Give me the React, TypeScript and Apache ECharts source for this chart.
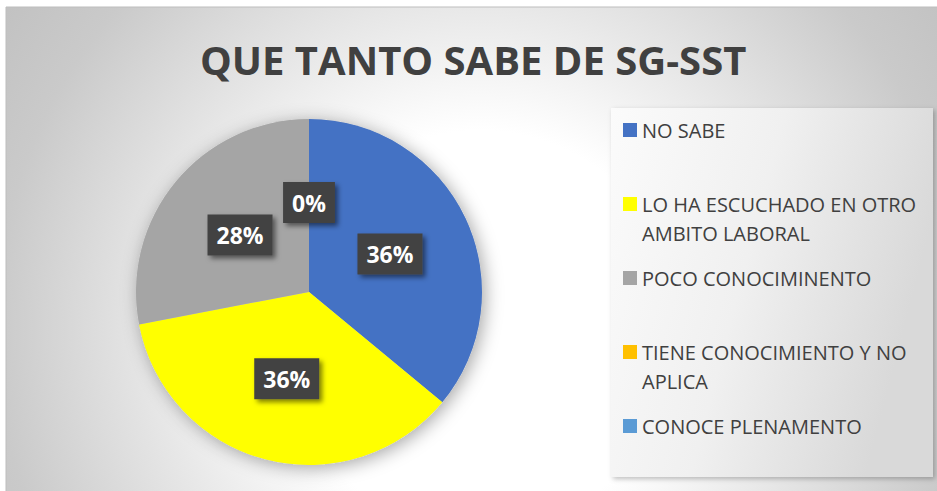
import React, { useEffect, useRef } from "react";
import * as echarts from "echarts";

const categories = [
  "NO SABE",
  "LO HA ESCUCHADO EN OTRO AMBITO LABORAL",
  "POCO CONOCIMINENTO",
  "TIENE CONOCIMIENTO Y NO APLICA",
  "CONOCE PLENAMENTO",
];
const legendLines = [
  ["NO SABE"],
  ["LO HA ESCUCHADO EN OTRO", "AMBITO LABORAL"],
  ["POCO CONOCIMINENTO"],
  ["TIENE CONOCIMIENTO Y NO", "APLICA"],
  ["CONOCE PLENAMENTO"],
];
const values = [36, 36, 28, 0, 0];
const colors = ["#4472C4", "#FFFF00", "#A5A5A5", "#FFC000", "#5B9BD5"];
const titleText = "QUE TANTO SABE DE SG-SST";

export default function App() {
  const ref = useRef<HTMLDivElement>(null);
  useEffect(() => {
    document.body.style.margin = "0";
    const chart = echarts.init(ref.current!, null, { renderer: "svg" });
    const legendCenters = [130, 204, 278, 352, 426];
    const lh = 29;
    const legends = categories.map((c, i) => {
      const multi = legendLines[i].length > 1;
      const iconH = multi ? 14 + lh : 14;
      return {
        data: [c],
        left: 623,
        top: multi ? legendCenters[i] - 14.5 : legendCenters[i] - 10,
        padding: 0,
        itemWidth: 14,
        itemHeight: iconH,
        itemGap: 5,
        icon: multi
          ? `path://M0,0H14V14H0Z M0,${iconH - 0.01}H14V${iconH}H0Z`
          : "rect",
        selectedMode: false,
        formatter: () => legendLines[i].join("\n"),
        textStyle: {
          fontFamily: "Open Sans",
          fontSize: 20,
          color: "#404040",
          lineHeight: multi ? lh : 20,
        },
      };
    });
    chart.setOption({
      animation: false,
      color: colors,
      title: {
        text: titleText,
        left: 200,
        top: 39,
        padding: 0,
        textStyle: {
          fontFamily: "Open Sans",
          fontSize: 40,
          fontWeight: "bold",
          color: "#404040",
          lineHeight: 40,
        },
      },
      graphic: [
        {
          type: "rect",
          z: -10,
          shape: { x: 6, y: 7, width: 940, height: 500 },
          style: {
            fill: {
              type: "radial",
              x: 480,
              y: 330,
              r: 570,
              global: true,
              colorStops: [
                { offset: 0, color: "#ffffff" },
                { offset: 0.35, color: "#ffffff" },
                { offset: 0.5, color: "#efefef" },
                { offset: 0.68, color: "#dcdcdc" },
                { offset: 0.85, color: "#cacaca" },
                { offset: 1, color: "#c2c2c2" },
              ],
            },
            stroke: "#bdbdbd",
            lineWidth: 1,
          },
        },
        {
          type: "rect",
          z: -9,
          shape: { x: 611, y: 108, width: 322, height: 369 },
          style: {
            fill: {
              type: "linear",
              x: 0,
              y: 0,
              x2: 1,
              y2: 0.3,
              colorStops: [
                { offset: 0, color: "#fbfbfb" },
                { offset: 0.5, color: "#f0f0f0" },
                { offset: 1, color: "#d9d9d9" },
              ],
            },
            shadowColor: "rgba(0,0,0,0.25)",
            shadowBlur: 5,
            shadowOffsetX: 2,
            shadowOffsetY: 2,
          },
        },
      ],
      legend: legends,
      series: [
        {
          type: "pie",
          silent: true,
          z: 1,
          center: [309, 292],
          radius: 173,
          label: { show: false },
          labelLine: { show: false },
          data: [{ value: values.reduce((a, b) => a + b, 0), name: "" }],
          itemStyle: {
            color: "#cccccc",
            shadowColor: "rgba(0,0,0,0.35)",
            shadowBlur: 18,
            shadowOffsetX: 3,
            shadowOffsetY: 3,
          },
        },
        {
          type: "pie",
          z: 2,
          center: [309, 292],
          radius: 173,
          startAngle: 90,
          clockwise: true,
          avoidLabelOverlap: false,
          itemStyle: { borderWidth: 0 },
          emphasis: { disabled: true },
          label: {
            show: true,
            position: "inside",
            formatter: "{c}%",
            color: "#ffffff",
            fontFamily: "Open Sans",
            fontWeight: "bold",
            fontSize: 23,
            lineHeight: 23,
            backgroundColor: "#434343",
            padding: [9, 9, 9, 9],
            shadowColor: "rgba(0,0,0,0.5)",
            shadowBlur: 5,
            shadowOffsetX: 3,
            shadowOffsetY: 3,
          },
          labelLine: { show: false },
          data: categories.map((c, i) => ({
            name: c,
            value: values[i],
            label: i === 4 ? { show: false } : undefined,
          })),
        },
      ],
    });
    return () => chart.dispose();
  }, []);
  return <div ref={ref} style={{ width: 937, height: 491 }} />;
}
